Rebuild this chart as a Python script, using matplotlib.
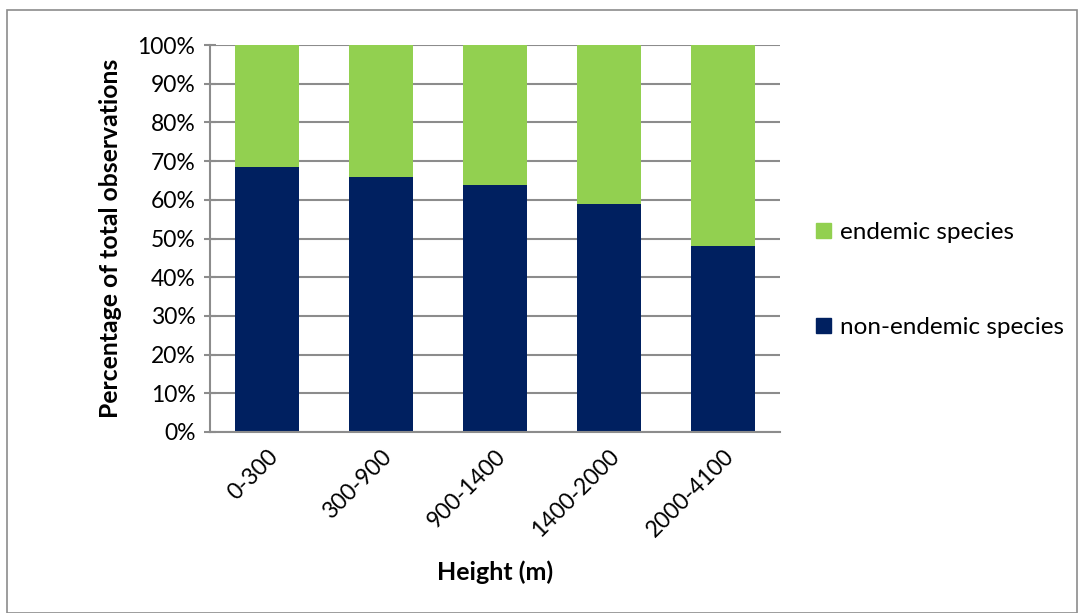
import matplotlib
matplotlib.use("Agg")
import matplotlib.pyplot as plt
from matplotlib.patches import Rectangle, Patch
from matplotlib.ticker import PercentFormatter

categories = ["0-300", "300-900", "900-1400", "1400-2000", "2000-4100"]
non_endemic = [68.5, 66.0, 63.9, 58.8, 48.1]
endemic = [100 - v for v in non_endemic]

plt.rcParams['font.family'] = ['Lato', 'DejaVu Sans']

fig = plt.figure(figsize=(10.8, 6.13), dpi=100)
ax = fig.add_axes([210/1080, 1 - 432/613, 570/1080, 387/613])

x = list(range(len(categories)))
ax.set_axisbelow(True)
ax.grid(axis='y', color='#8c8c8c', linewidth=1.5)
ax.bar(x, non_endemic, width=0.57, color='#002060', label='non-endemic species', zorder=2)
ax.bar(x, endemic, bottom=non_endemic, width=0.57, color='#92D050', label='endemic species', zorder=2)

ax.set_xlim(-0.5, len(categories) - 0.5)
ax.set_ylim(0, 100)
ax.set_yticks(range(0, 101, 10))
ax.yaxis.set_major_formatter(PercentFormatter(decimals=0))
ax.set_xticks(x)
ax.set_xticklabels(categories, rotation=45, ha='right', rotation_mode='anchor')

for s in ['top', 'right']:
    ax.spines[s].set_visible(False)
for s in ['left', 'bottom']:
    ax.spines[s].set_color('#8c8c8c')
    ax.spines[s].set_linewidth(1.5)

ax.tick_params(axis='y', direction='inout', length=9, width=1.5, color='#8c8c8c',
               labelsize=16.5, pad=6, labelcolor='black')
ax.tick_params(axis='x', length=0, labelsize=16.5, pad=10, labelcolor='black')

ax.set_ylabel('Percentage of total observations', fontsize=17.8, fontweight='bold', labelpad=11)
ax.set_xlabel('Height (m)', fontsize=18, fontweight='bold', labelpad=14)

handles = [Patch(color='#92D050'), Patch(color='#002060')]
fig.legend(handles, ['endemic species', 'non-endemic species'], loc='center left',
           bbox_to_anchor=(816/1080, 1 - 280/613), frameon=False, fontsize=17.5,
           handlelength=0.62, handleheight=0.62, handletextpad=0.35, labelspacing=3.05,
           borderaxespad=0, borderpad=0)

fig.patches.append(Rectangle((7/1080, 0), 1070/1080, 1 - 10/613, transform=fig.transFigure,
                             fill=False, edgecolor='#8c8c8c', linewidth=1.2))

fig.savefig('out.png', dpi=100)
